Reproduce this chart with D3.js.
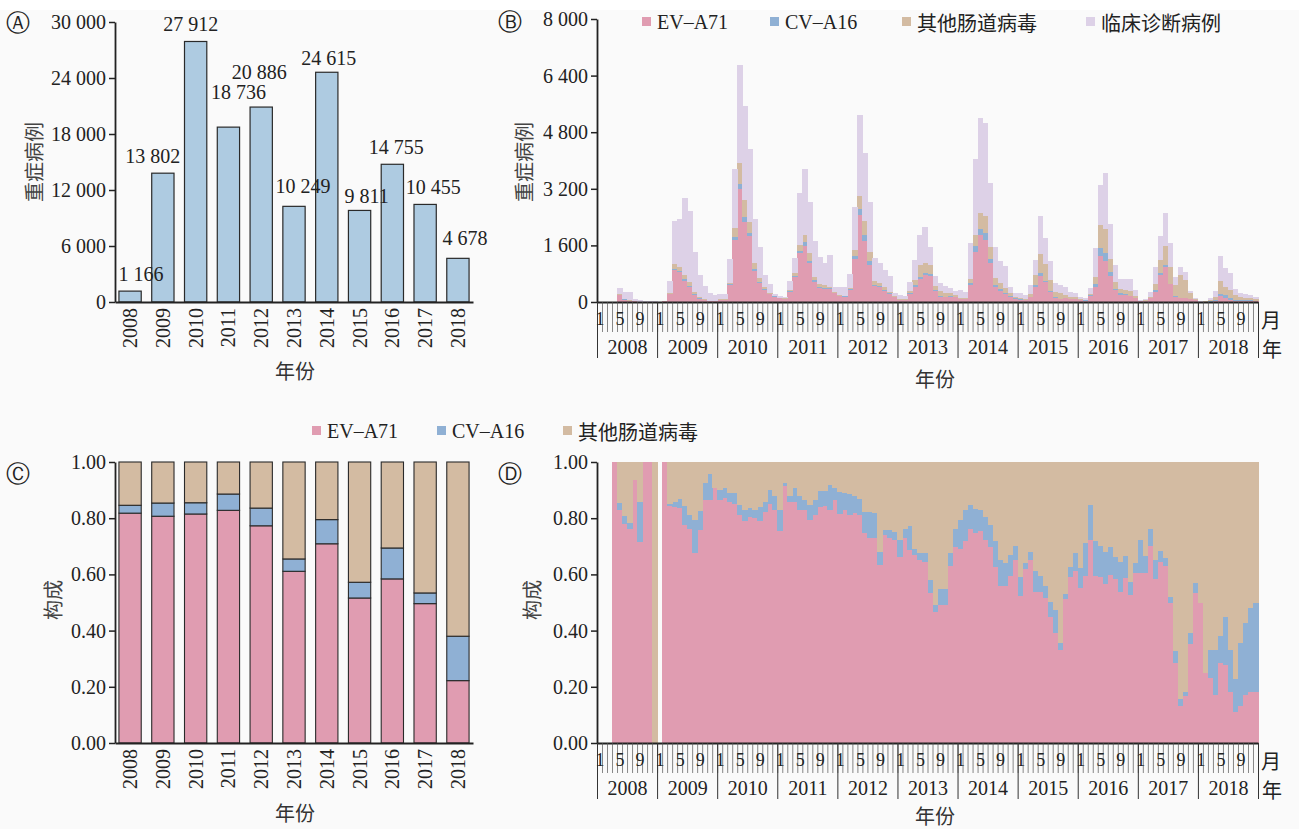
<!DOCTYPE html>
<html>
<head>
<meta charset="utf-8">
<script src="https://cdn.jsdelivr.net/npm/d3@7"></script>
<style>
  body { margin: 0; background: #fff; }
</style>
</head>
<body>
<svg id="chart" width="1299" height="829"></svg>
<script>
// ---- data ----
var years = ["2008","2009","2010","2011","2012","2013","2014","2015","2016","2017","2018"];
var monthMarks = [1, 5, 9];
var severeTotal = [1166, 13802, 27912, 18736, 20886, 10249, 24615, 9811, 14755, 10455, 4678];
var caseTicks = [0, 6000, 12000, 18000, 24000, 30000];
var monthCaseTicks = [0, 1600, 3200, 4800, 6400, 8000];
var shareTicks = [0, 0.2, 0.4, 0.6, 0.8, 1];

// panel C: yearly composition of lab-confirmed severe cases
var yearEV    = [.818, .807, .815, .828, .773, .611, .709, .516, .584, .496, .222];
var yearCV    = [.028, .047, .040, .058, .063, .044, .086, .056, .110, .038, .158];
var yearOther = [.154, .146, .145, .114, .164, .345, .205, .428, .306, .466, .620];

// panel B: monthly severe cases, Jan 2008 - Dec 2018
var monthEV = [
  0,0,0,3,190,70,40,15,5,3,2,0,
  0,15,220,904,838,603,433,207,94,56,30,25,
  60,55,480,1752,3193,2261,1875,885,527,349,217,150,
  100,90,292,697,1375,1583,1093,575,405,377,377,245,
  170,150,339,1215,2459,1724,1046,452,433,320,226,132,
  60,50,226,433,640,763,743,300,150,130,150,130,
  83,79,489,1413,1890,1755,1089,419,305,216,146,98,
  63,56,143,410,730,553,280,114,87,102,89,80,
  50,42,164,425,1288,1163,721,326,204,193,158,109,
  24,30,105,291,766,997,497,137,99,104,88,43,
  5,5,12,26,171,118,62,22,20,21,18,15];
var monthCV = [
  0,0,0,0,6,3,1,0,1,0,0,0,
  0,0,4,20,30,37,30,18,20,5,3,2,
  5,5,15,94,142,132,65,48,48,20,12,8,
  5,5,15,50,66,103,75,45,25,30,15,8,
  8,8,15,85,160,169,122,38,27,20,16,8,
  5,5,15,47,76,57,48,30,20,15,15,10,
  13,12,53,161,186,202,124,62,50,31,18,7,
  8,2,6,57,76,47,33,24,7,4,5,8,
  6,8,28,90,235,234,121,45,41,26,14,6,
  5,3,9,36,46,47,24,20,20,9,10,3,
  0,0,5,24,58,73,50,23,34,31,30,25];
var monthOther = [
  0,0,0,0,33,17,12,1,1,0,0,1,
  0,0,36,140,121,132,111,67,36,14,7,5,
  15,15,51,236,602,489,330,178,103,45,35,22,
  15,10,33,82,170,207,207,96,69,73,41,27,
  22,20,32,170,377,405,254,113,86,74,50,30,
  25,25,60,142,330,280,255,120,130,105,85,60,
  24,19,99,320,431,474,351,188,191,139,81,45,
  49,32,71,296,550,474,309,154,170,94,56,42,
  34,20,34,201,653,657,364,189,135,111,128,65,
  11,17,36,173,375,539,479,323,644,509,152,34,
  5,15,33,100,374,233,227,155,96,68,52,40];
var monthClinical = [
  0,0,0,2,161,200,237,69,49,35,28,19,
  0,5,343,1225,1347,2167,1998,1121,613,386,205,166,
  146,142,660,1667,2763,2658,2055,1235,886,349,245,40,
  59,45,253,424,1479,1856,1451,1017,763,632,905,153,
  233,236,405,1205,2289,1914,1413,631,547,490,452,75,
  108,90,255,565,847,1029,518,285,240,190,150,100,
  219,182,1027,2148,2693,2629,1800,886,613,631,179,104,
  134,110,260,424,1075,726,528,245,216,224,133,124,
  42,30,174,811,1130,1583,994,486,270,320,340,159,
  20,30,133,500,679,924,680,220,237,235,70,20,
  20,20,50,150,697,537,481,162,114,106,98,71];

// panel D: monthly composition (null = no lab-confirmed cases)
var propEV = [
  null,null,null,1,.83,.779,.761,.937,.716,1,1,0,
  null,1,.843,.84,.838,.775,.76,.675,.757,.866,.866,.908,
  .866,.873,.858,.85,.81,.79,.805,.80,.79,.822,.852,.828,
  .754,.914,.858,.858,.828,.828,.793,.81,.84,.843,.83,.864,
  .814,.83,.81,.819,.81,.746,.731,.73,.633,.74,.728,.724,
  .663,.731,.686,.669,.653,.645,.535,.467,.491,.491,.63,.698,
  .689,.718,.763,.746,.754,.722,.696,.627,.559,.559,.594,.651,
  .523,.618,.651,.538,.538,.515,.45,.39,.331,.511,.592,.613,
  .55,.594,.724,.594,.592,.566,.598,.582,.538,.586,.527,.606,
  .604,.606,.70,.582,.645,.63,.497,.286,.13,.168,.351,.535,
  .50,.249,.231,.172,.284,.278,.183,.112,.13,.172,.18,.183];
var propCV = [
  null,null,null,0,.024,.028,.022,0,.14,0,0,0,
  null,0,.009,.018,.032,.068,.05,.118,.069,.061,.09,0,
  .034,.035,.03,.038,.036,.038,.033,.028,.05,.036,.048,.052,
  .074,.011,.022,.05,.052,.036,.053,.054,.057,.054,.087,.045,
  .079,.06,.075,.06,.06,.076,.091,.09,.047,.017,.029,.026,
  .061,.032,.086,.02,.024,.03,.045,.024,.056,.056,.047,.062,
  .106,.11,.083,.085,.074,.083,.079,.093,.092,.08,.075,.049,
  .069,.021,.029,.075,.056,.044,.053,.083,.026,.019,.033,.062,
  .071,.118,.122,.126,.108,.114,.10,.081,.107,.079,.047,.035,
  .12,.059,.063,.071,.039,.03,.024,.042,.026,.015,.039,.035,
  0,0,.10,.159,.097,.172,.148,.115,.227,.256,.299,.317];
var propOther = [
  null,null,null,0,.146,.193,.217,.063,.144,0,0,1,
  null,0,.148,.142,.13,.157,.19,.207,.174,.073,.044,.092,
  .10,.092,.112,.112,.154,.172,.162,.172,.16,.142,.10,.12,
  .172,.075,.12,.092,.12,.136,.154,.136,.103,.103,.083,.091,
  .107,.11,.115,.121,.13,.178,.178,.18,.32,.243,.243,.25,
  .276,.237,.228,.311,.323,.325,.42,.509,.453,.453,.323,.24,
  .205,.172,.154,.169,.172,.195,.225,.28,.349,.361,.331,.30,
  .408,.361,.32,.387,.406,.441,.497,.527,.643,.47,.375,.325,
  .379,.288,.154,.28,.30,.32,.302,.337,.355,.335,.426,.359,
  .276,.335,.237,.347,.316,.34,.479,.672,.844,.817,.61,.43,
  .50,.751,.669,.669,.619,.55,.669,.773,.643,.572,.521,.50];

var seriesNames = {ev: "EV\u2013A71", cv: "CV\u2013A16", oth: "其他肠道病毒", clin: "临床诊断病例"};

// label nudges for panel A (the original places them by hand)
var labelNudge = [[11,0],[-10,0],[-5,0],[10,-18],[-2,-18],[9,-3],[2,3],[7,3],[4,0],[8,0],[7,-3]];

// ---- setup ----
var serif = "'Liberation Serif','Times New Roman',serif";
var cjk = "'Noto Sans CJK SC','Noto Sans',sans-serif";
var colors = {ev: "#e09cb1", cv: "#8fb0d4", oth: "#d3bba2", clin: "#ddd1e7"};
var fmtSpace = d3.formatLocale({decimal: ".", thousands: " ", grouping: [3], currency: ["", ""]}).format(",");

var svg = d3.select("#chart");
svg.append("rect").attr("width", 1299).attr("height", 829).attr("fill", "#fafafa");
svg.append("rect").attr("width", 1299).attr("height", 10).attr("fill", "#fff");

function styleAxis(g, size) {
  g.select(".domain").attr("stroke", "#222").attr("stroke-width", 1.8);
  g.selectAll(".tick line").attr("stroke", "#222").attr("stroke-width", 1.5);
  g.selectAll(".tick text").attr("font-family", serif).attr("font-size", size || 20).attr("fill", "#222");
}

function addText(x, y, txt, opts) {
  opts = opts || {};
  var t = svg.append("text")
    .attr("x", x).attr("y", y)
    .attr("font-family", opts.font || cjk)
    .attr("font-size", opts.size || 20)
    .attr("fill", opts.fill || "#333")
    .attr("text-anchor", opts.anchor || "middle")
    .attr("dominant-baseline", "central")
    .text(txt);
  if (opts.rotate) t.attr("transform", "rotate(-90," + x + "," + y + ")");
  return t;
}

function legend(keys, xs, y) {
  keys.forEach(function(k, i) {
    svg.append("rect").attr("x", xs[i]).attr("y", y - 5).attr("width", 9).attr("height", 9).attr("fill", colors[k]);
    addText(xs[i] + 15, y, seriesNames[k], {anchor: "start", font: (k == "ev" || k == "cv") ? serif : cjk, fill: "#222"});
  });
}

// panel letters
addText(18, 23, "\u24B6", {font: "'DejaVu Sans'", size: 24, fill: "#222"});
addText(510, 22, "\u24B7", {font: "'DejaVu Sans'", size: 24, fill: "#222"});
addText(18, 474, "\u24B8", {font: "'DejaVu Sans'", size: 24, fill: "#222"});
addText(510, 474, "\u24B9", {font: "'DejaVu Sans'", size: 24, fill: "#222"});

// ================= Panel A =================
var xA = d3.scaleBand().domain(years).range([115, 473]).paddingInner(0.32).paddingOuter(0.12);
var yA = d3.scaleLinear().domain([0, 30000]).range([302, 22]);

svg.append("g").selectAll("rect").data(severeTotal).enter().append("rect")
  .attr("x", (d, i) => xA(years[i]))
  .attr("y", d => yA(d))
  .attr("width", xA.bandwidth())
  .attr("height", d => yA(0) - yA(d))
  .attr("fill", "#aecbe1")
  .attr("stroke", "#2a2a2a").attr("stroke-width", 1.2);

svg.append("g").selectAll("text").data(severeTotal).enter().append("text")
  .attr("x", (d, i) => xA(years[i]) + xA.bandwidth() / 2 + labelNudge[i][0])
  .attr("y", (d, i) => yA(d) - 10 + labelNudge[i][1])
  .attr("text-anchor", "middle")
  .attr("font-family", serif).attr("font-size", 20).attr("fill", "#222")
  .text(d => fmtSpace(d));

svg.append("g").attr("transform", "translate(115,0)")
  .call(d3.axisLeft(yA).tickValues(caseTicks).tickSize(6).tickSizeOuter(0).tickFormat(fmtSpace))
  .call(styleAxis);

svg.append("g").attr("transform", "translate(0,302)")
  .call(d3.axisBottom(xA).tickSize(0).tickSizeOuter(0))
  .call(styleAxis)
  .selectAll(".tick text")
  .attr("transform", "rotate(-90)").attr("text-anchor", "end")
  .attr("x", -6).attr("y", 0).attr("dy", "0.35em");

addText(33, 162, "重症病例", {rotate: true, fill: "#444"});
addText(295, 370, "年份", {fill: "#333"});

// ================= Panel C =================
var yC = d3.scaleLinear().domain([0, 1]).range([743, 462]);
var yearRows = years.map((y, i) => ({year: y, ev: yearEV[i], cv: yearCV[i], oth: yearOther[i]}));
var stackC = d3.stack().keys(["ev", "cv", "oth"])(yearRows);

svg.append("g").selectAll("g").data(stackC).enter().append("g")
  .attr("fill", s => colors[s.key])
  .selectAll("rect").data(s => s).enter().append("rect")
  .attr("x", d => xA(d.data.year))
  .attr("y", d => yC(d[1]))
  .attr("width", xA.bandwidth())
  .attr("height", d => yC(d[0]) - yC(d[1]))
  .attr("stroke", "#2a2a2a").attr("stroke-width", 1.1);

svg.append("g").attr("transform", "translate(115,0)")
  .call(d3.axisLeft(yC).tickValues(shareTicks).tickSize(6).tickSizeOuter(0).tickFormat(d3.format(".2f")))
  .call(styleAxis);

svg.append("g").attr("transform", "translate(0,743)")
  .call(d3.axisBottom(xA).tickSize(0).tickSizeOuter(0))
  .call(styleAxis)
  .selectAll(".tick text")
  .attr("transform", "rotate(-90)").attr("text-anchor", "end")
  .attr("x", -6).attr("y", 0).attr("dy", "0.35em");

addText(52, 600, "构成", {rotate: true, fill: "#444"});
addText(295, 812, "年份", {fill: "#333"});

// ================= monthly x scale (B & D) =================
var nMonths = years.length * 12;
var xm = d3.scaleLinear().domain([0, nMonths]).range([597, 1258]);

function monthAxis(y0, titleGap) {
  var g = svg.append("g").attr("transform", "translate(0," + y0 + ")");
  g.append("g")
    .call(d3.axisBottom(xm).tickValues(d3.range(0, nMonths + 1)).tickSize(30).tickSizeOuter(0).tickFormat(""))
    .call(a => a.select(".domain").attr("stroke", "#222").attr("stroke-width", 1.8))
    .call(a => a.selectAll(".tick line").attr("stroke", "#555").attr("stroke-width", 0.7));
  g.append("g")
    .call(d3.axisBottom(xm).tickValues(d3.range(0, nMonths + 1, 12)).tickSize(56).tickFormat(""))
    .call(a => a.select(".domain").remove())
    .call(a => a.selectAll(".tick line").attr("stroke", "#333").attr("stroke-width", 1));
  var monthPos = [];
  years.forEach((y, k) => monthMarks.forEach(m => monthPos.push(12 * k + m - 0.5)));
  g.append("g")
    .call(d3.axisBottom(xm).tickValues(monthPos).tickSize(0).tickPadding(10)
      .tickFormat(d => String(Math.round(d + 0.5) % 12)))
    .call(a => a.select(".domain").remove())
    .call(a => a.selectAll("text").attr("font-family", serif).attr("font-size", 18).attr("fill", "#222"));
  g.append("g")
    .call(d3.axisBottom(xm).tickValues(years.map((y, k) => 12 * k + 6)).tickSize(0).tickPadding(38)
      .tickFormat((d, k) => years[k]))
    .call(a => a.select(".domain").remove())
    .call(a => a.selectAll("text").attr("font-family", serif).attr("font-size", 20).attr("fill", "#222"));
  addText(xm(nMonths) + 13, y0 + 17, "月", {fill: "#222"});
  addText(xm(nMonths) + 14, y0 + 46, "年", {fill: "#222"});
  addText(935, y0 + titleGap, "年份", {fill: "#333"});
}

// ================= Panel B =================
var yB = d3.scaleLinear().domain([0, 8000]).range([302, 19]);
var monthRows = monthEV.map((v, i) => ({i: i, ev: v, cv: monthCV[i], oth: monthOther[i], clin: monthClinical[i]}));
var stackB = d3.stack().keys(["ev", "cv", "oth", "clin"])(monthRows);

svg.append("g").attr("shape-rendering", "crispEdges")
  .selectAll("g").data(stackB).enter().append("g")
  .attr("fill", s => colors[s.key])
  .selectAll("rect").data(s => s.filter(d => d[1] > d[0])).enter().append("rect")
  .attr("x", d => xm(d.data.i))
  .attr("y", d => yB(d[1]))
  .attr("width", d => xm(d.data.i + 1) - xm(d.data.i) + 0.5)
  .attr("height", d => yB(d[0]) - yB(d[1]));

svg.append("g").attr("transform", "translate(597,0)")
  .call(d3.axisLeft(yB).tickValues(monthCaseTicks).tickSize(6).tickSizeOuter(0).tickFormat(fmtSpace))
  .call(styleAxis);
monthAxis(302, 76);
addText(523, 162, "重症病例", {rotate: true, fill: "#444"});
legend(["ev", "cv", "oth", "clin"], [642, 770, 902, 1086], 22);

// ================= Panel D =================
var yD = d3.scaleLinear().domain([0, 1]).range([743, 462]);
var propRows = propEV.map((v, i) => ({i: i, ev: v || 0, cv: propCV[i] || 0, oth: propOther[i] || 0}));
var stackD = d3.stack().keys(["ev", "cv", "oth"])(propRows);

svg.append("g").attr("shape-rendering", "crispEdges")
  .selectAll("g").data(stackD).enter().append("g")
  .attr("fill", s => colors[s.key])
  .selectAll("rect").data(s => s.filter(d => d[1] > d[0])).enter().append("rect")
  .attr("x", d => xm(d.data.i))
  .attr("y", d => yD(d[1]))
  .attr("width", d => xm(d.data.i + 1) - xm(d.data.i) + 0.5)
  .attr("height", d => yD(d[0]) - yD(d[1]));

svg.append("g").attr("transform", "translate(597,0)")
  .call(d3.axisLeft(yD).tickValues(shareTicks).tickSize(6).tickSizeOuter(0).tickFormat(d3.format(".2f")))
  .call(styleAxis);
monthAxis(743, 72);
addText(531, 600, "构成", {rotate: true, fill: "#444"});

legend(["ev", "cv", "oth"], [312, 437, 563], 431);
</script>
</body>
</html>
